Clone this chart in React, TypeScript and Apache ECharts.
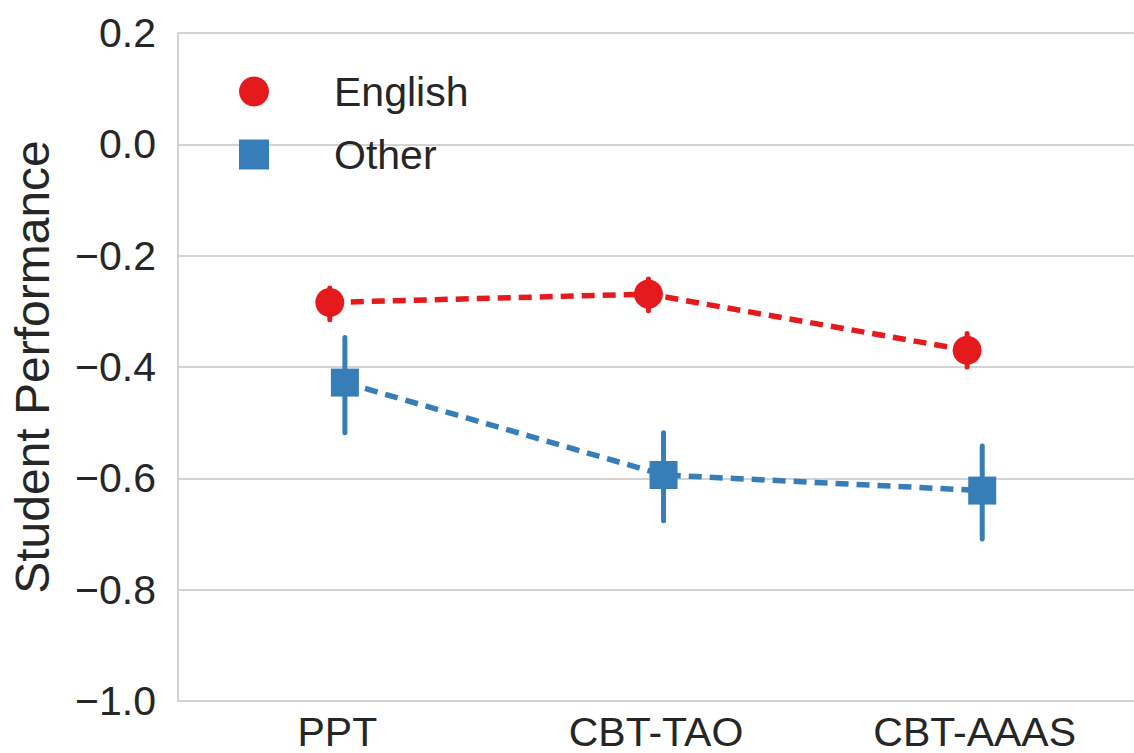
import React, { useEffect, useRef } from "react";
import * as echarts from "echarts";

const categories = ["PPT", "CBT-TAO", "CBT-AAAS"];
const seriesNames = ["English", "Other"];
const englishMean = [-0.284, -0.269, -0.37];
const englishHigh = [-0.258, -0.242, -0.34];
const englishLow = [-0.315, -0.299, -0.4];
const otherMean = [-0.428, -0.594, -0.622];
const otherHigh = [-0.347, -0.518, -0.542];
const otherLow = [-0.518, -0.676, -0.709];

const RED = "#e41a1c";
const BLUE = "#377eb8";
const TEXT = "#262626";
const GRID = "#d3d3d3";
const FONT = "'Liberation Sans', Arial, sans-serif";
const DODGE = 0.0237;

function fmt(v: number) {
  if (Math.abs(v) < 1e-9) return "0.0";
  const s = v.toFixed(1);
  return s.replace("-", "\u2212");
}

export default function App() {
  const ref = useRef<HTMLDivElement>(null);
  useEffect(() => {
    if (!ref.current) return;
    const chart = echarts.init(ref.current, undefined, { renderer: "svg" });

    const mk = (mean: number[], off: number) =>
      mean.map((m, i) => [i + off, m]);
    const mkErr = (lo: number[], hi: number[], off: number) =>
      lo.map((l, i) => [i + off, l, hi[i]]);

    const errRender = (color: string) => (params: any, api: any) => {
      const x = api.value(0);
      const p1 = api.coord([x, api.value(1)]);
      const p2 = api.coord([x, api.value(2)]);
      return {
        type: "line",
        shape: { x1: p1[0], y1: p1[1], x2: p2[0], y2: p2[1] },
        style: { stroke: color, lineWidth: 5, lineCap: "round" },
      };
    };

    chart.setOption({
      animation: false,
      backgroundColor: "#ffffff",
      textStyle: { fontFamily: FONT },
      grid: { left: 172, right: -11, top: 33, bottom: 52, containLabel: false },
      legend: {
        orient: "vertical",
        left: 234,
        top: 66,
        itemWidth: 150,
        itemHeight: 30,
        itemGap: 22,
        symbolKeepAspect: true,
        textStyle: { fontSize: 41, color: TEXT, fontFamily: FONT },
        data: [
          { name: seriesNames[0], icon: "circle" },
          { name: seriesNames[1], icon: "path://M0,0L10,0L10,10L0,10Z" },
        ],
      },
      xAxis: [
        {
          type: "category",
          data: categories,
          boundaryGap: true,
          axisLine: { show: true, onZero: false, lineStyle: { color: GRID, width: 2 } },
          axisTick: { show: false },
          splitLine: { show: false },
          axisLabel: { fontSize: 41, color: TEXT, margin: 10, fontFamily: FONT },
        },
        {
          type: "value",
          min: -0.5,
          max: 2.5,
          show: false,
          splitLine: { show: false },
          axisLine: { show: false, onZero: false },
        },
      ],
      yAxis: {
        type: "value",
        min: -1.0,
        max: 0.2,
        interval: 0.2,
        name: "Student Performance",
        nameLocation: "middle",
        nameRotate: 90,
        nameGap: 122,
        nameTextStyle: { fontSize: 48, color: TEXT, fontFamily: FONT },
        axisLine: { show: true, onZero: false, lineStyle: { color: GRID, width: 2 } },
        axisTick: { show: false },
        splitLine: { show: true, lineStyle: { color: GRID, width: 2 } },
        axisLabel: {
          fontSize: 41,
          color: TEXT,
          margin: 22,
          fontFamily: FONT,
          formatter: (v: number) => fmt(v),
        },
      },
      series: [
        {
          type: "custom",
          name: seriesNames[0] + " CI",
          xAxisIndex: 1,
          renderItem: errRender(RED),
          data: mkErr(englishLow, englishHigh, -DODGE),
          z: 2,
        },
        {
          type: "custom",
          name: seriesNames[1] + " CI",
          xAxisIndex: 1,
          renderItem: errRender(BLUE),
          data: mkErr(otherLow, otherHigh, DODGE),
          z: 2,
        },
        {
          type: "line",
          name: seriesNames[0],
          xAxisIndex: 1,
          data: mk(englishMean, -DODGE),
          symbol: "circle",
          symbolSize: 29,
          itemStyle: { color: RED },
          lineStyle: { color: RED, width: 5.5, type: [13, 8] },
          z: 3,
        },
        {
          type: "line",
          name: seriesNames[1],
          xAxisIndex: 1,
          data: mk(otherMean, DODGE),
          symbol: "rect",
          symbolSize: 28,
          itemStyle: { color: BLUE },
          lineStyle: { color: BLUE, width: 5.5, type: [13, 8] },
          z: 3,
        },
      ],
    });
    return () => chart.dispose();
  }, []);

  return (
    <div
      ref={ref}
      style={{ position: "fixed", left: 0, top: 0, width: 1134, height: 753 }}
    />
  );
}
